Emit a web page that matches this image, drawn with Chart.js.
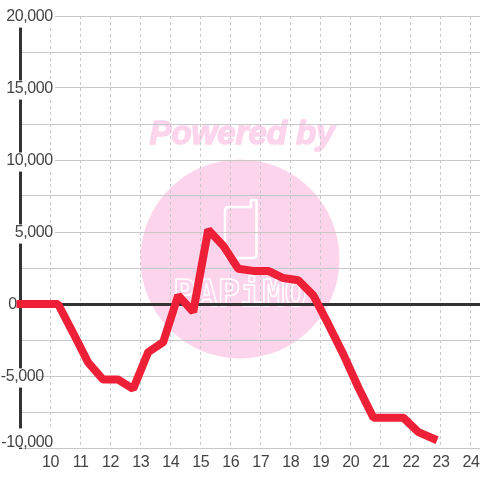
<!DOCTYPE html>
<html>
<head>
<meta charset="utf-8">
<style>
  html, body { margin: 0; padding: 0; background: #fff; }
  #wrap { width: 480px; height: 480px; }
</style>
<script src="https://cdn.jsdelivr.net/npm/chart.js@4/dist/chart.umd.min.js"></script>
</head>
<body>
<div id="wrap"><canvas id="myChart" width="480" height="480"></canvas></div>
<script>
var hours = [9, 9.5, 10.25, 10.75, 11.25, 11.75, 12.25, 12.75, 13.25, 13.75, 14.25, 14.75, 15.25, 15.75, 16.25, 16.75, 17.25, 17.75, 18.25, 18.75, 19.25, 19.75, 20.25, 20.75, 21.25, 21.75, 22.25, 22.75];
var balance = [0, 0, 0, -2000, -4050, -5250, -5250, -5900, -3350, -2650, 600, -550, 5150, 4050, 2450, 2300, 2300, 1800, 1650, 600, -1400, -3500, -5800, -7900, -7900, -7900, -8900, -9350];
var hourTicks = [9, 10, 11, 12, 13, 14, 15, 16, 17, 18, 19, 20, 21, 22, 23, 24];

// pink watermark sits behind everything
var watermark = {
  id: 'watermark',
  beforeDraw: function (chart) {
    var c = chart.ctx;
    c.save();
    c.letterSpacing = '0px';
    c.fillStyle = '#fcd5ec';
    c.beginPath();
    c.arc(240, 259, 99.5, 0, Math.PI * 2);
    c.fill();
    c.font = 'italic bold 33px "Liberation Sans"';
    c.textAlign = 'center';
    c.textBaseline = 'middle';
    c.strokeStyle = '#fcd5ec';
    c.lineWidth = 1.5;
    c.strokeText('Powered by', 242, 135);
    c.fillText('Powered by', 242, 135);
    // phone outline
    c.strokeStyle = '#fff';
    c.lineWidth = 2.5;
    c.lineJoin = 'round';
    c.beginPath();
    c.moveTo(229, 207);
    c.lineTo(251, 207);
    c.lineTo(251, 200);
    c.lineTo(256.5, 200);
    c.lineTo(256.5, 255);
    c.quadraticCurveTo(256.5, 258, 253, 258);
    c.lineTo(228, 258);
    c.quadraticCurveTo(225, 258, 225, 255);
    c.lineTo(225, 211);
    c.quadraticCurveTo(225, 207, 229, 207);
    c.stroke();
    c.font = 'bold 37px "DejaVu Sans Mono"';
    c.lineWidth = 1.5;
    c.textBaseline = 'alphabetic';
    c.strokeText('PAPiMO', 240, 306);
    c.restore();
  }
};

// y labels that do not sit in the usual right aligned column
var labelShift = { '0': [-36, 0], '-5,000': [-9, 0], '-10,000': [0, -6] };
var moveLabels = {
  id: 'moveLabels',
  afterLayout: function (chart) {
    chart.ctx.letterSpacing = '-0.4px';
    chart.scales.y._labelItems = null;
    chart.scales.y.getLabelItems().forEach(function (it) {
      var o = it.options;
      if (it.label === '') {
        o.backdrop = undefined;
        return;
      }
      var s = labelShift[it.label] || [0, 0];
      o.translation[0] += s[0];
      o.translation[1] += s[1] + 1;
      o.backdrop.left += s[0];
      o.backdrop.top += s[1] + 1;
    });
  }
};

new Chart(document.getElementById('myChart').getContext('2d'), {
  type: 'line',
  data: {
    datasets: [{
      data: hours.map(function (h, i) { return { x: h, y: balance[i] }; }),
      borderColor: '#ee2038',
      borderWidth: 8,
      borderCapStyle: 'square',
      borderJoinStyle: 'bevel',
      pointRadius: 0,
      tension: 0,
      clip: false
    }]
  },
  plugins: [watermark, moveLabels],
  options: {
    responsive: false,
    animation: false,
    layout: { padding: { top: 16, right: 0, bottom: 0, left: 0 } },
    plugins: { legend: { display: false }, tooltip: { enabled: false } },
    scales: {
      x: {
        type: 'linear',
        min: 9,
        max: 24.3,
        afterBuildTicks: function (axis) {
          axis.ticks = hourTicks.map(function (v) { return { value: v }; });
        },
        grid: { color: '#c8c8c8', lineWidth: 1, drawTicks: false },
        border: { display: false, dash: [3, 3] },
        ticks: {
          padding: 5,
          maxRotation: 0,
          autoSkip: false,
          color: '#444',
          font: { family: '"Liberation Sans"', size: 16 },
          callback: function (v) { return v === 9 ? '' : v; }
        },
        afterFit: function (axis) {
          axis.height = 32;
          axis.paddingLeft = 0;
          axis.paddingRight = 0;
        }
      },
      y: {
        min: -10000,
        max: 20000,
        afterFit: function (axis) {
          axis.width = 20.5;
          axis.paddingTop = 0;
          axis.paddingBottom = 0;
        },
        grid: {
          drawTicks: false,
          color: function (c) { return c.tick.value === 0 ? '#333' : '#c8c8c8'; },
          lineWidth: function (c) { return c.tick.value === 0 ? 3 : 1; }
        },
        border: { color: '#333', width: 3 },
        ticks: {
          stepSize: 2500,
          autoSkip: false,
          mirror: true,
          crossAlign: 'far',
          padding: -22,
          color: '#444',
          font: { family: '"Liberation Sans"', size: 16 },
          showLabelBackdrop: true,
          backdropColor: '#fff',
          backdropPadding: { top: 0, bottom: 0, left: 2, right: 2 },
          callback: function (v) { return v % 5000 === 0 ? v.toLocaleString('en-US') : ''; }
        }
      }
    }
  }
});
</script>
</body>
</html>
